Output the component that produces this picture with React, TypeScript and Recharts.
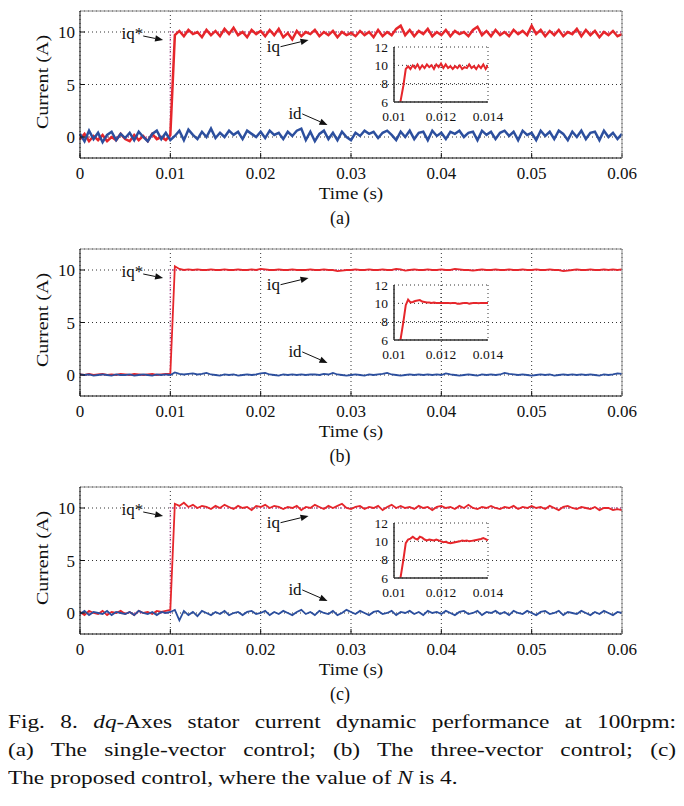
import React from "react";
import {
  LineChart,
  Line,
  XAxis,
  YAxis,
  CartesianGrid,
  ReferenceLine,
  ReferenceDot,
} from "recharts";

const FONT = '"Liberation Serif", "Times New Roman", serif';
const RED = "#e6262b";
const BLUE = "#2c4f9e";
const REF = "#cc5fae";

// sample grid of the main traces and of the zoomed insets
const STEP = 0.0005;
const INSET_T0 = 0.01;
const INSET_STEP = 0.0001;

const X_TICKS = [0, 0.01, 0.02, 0.03, 0.04, 0.05, 0.06];
const Y_TICKS = [0, 5, 10];
const INSET_X_TICKS = [0.01, 0.012, 0.014];
const INSET_Y_TICKS = [6, 8, 10, 12];

// iq* reference step
const REF_T = [0, 0.01, 0.01, 0.06];
const REF_V = [0, 0, 10, 10];

// (a) single-vector control
const IQ_A = [
  -0.2, 0.3, -0.4, 0.1, -0.3, 0.2, -0.4, 0.0, -0.3, 0.3,
  -0.2, -0.4, 0.2, -0.3, 0.1, -0.4, 0.3, -0.2, 0.0, -0.3,
  0.2,
  9.7, 10.1, 9.6, 10.2, 9.8, 10.0, 9.5, 10.2, 9.7, 10.1,
  9.6, 10.3, 9.8, 10.4, 9.7, 10.0, 9.5, 10.2, 9.8, 10.1,
  9.6, 10.2, 9.7, 10.3, 9.5, 9.9, 9.3, 10.1, 9.6, 10.0,
  9.8, 10.2, 9.6, 10.0, 9.7, 10.1, 9.5, 10.0, 9.7, 9.9,
  9.6, 10.1, 9.7, 10.0, 9.5, 10.2, 9.6, 10.0, 9.7, 10.3,
  10.6, 9.7, 10.2, 9.6, 10.1, 9.8, 10.3, 9.6, 10.0, 9.7,
  10.2, 9.6, 10.1, 9.8, 10.0, 9.6, 10.2, 10.5, 9.7, 10.1,
  9.6, 10.2, 9.7, 10.0, 9.6, 10.2, 9.8, 10.1, 9.7, 10.6,
  9.8, 10.2, 9.6, 10.1, 9.7, 10.2, 9.6, 10.0, 9.8, 10.3,
  9.6, 10.2, 9.7, 10.1, 9.5, 10.0, 9.7, 10.1, 9.6, 9.8,
];
const ID_A = [
  0.3, -0.4, 0.6, -0.2, 0.4, -0.5, 0.2, 0.5, -0.3, 0.3, -0.1,
  0.4, -0.3, 0.5, 0.0, -0.4, 0.3, 0.6, -0.2, 0.4, -0.3,
  0.1, 0.6, -0.3, 0.7, 0.2, -0.2, 0.5, 0.0, 0.8, -0.1,
  0.4, 0.0, 0.6, 0.2, 0.5, -0.2, 0.6, 0.3, 0.0, 0.5,
  -0.1, 0.6, 0.2, 0.4, -0.2, 0.5, 0.1, 0.6, 0.8, -0.3,
  0.5, -0.4, 0.3, 0.6, -0.2, 0.4, -0.3, 0.5, 0.0, -0.3,
  0.4, 0.1, 0.6, 0.3, 0.5, -0.1, 0.4, 0.6, 0.2, -0.3,
  0.5, 0.0, 0.6, -0.2, 0.4, 0.5, -0.3, 0.6, 0.1, 0.4,
  -0.2, 0.5, 0.3, 0.6, 0.0, 0.4, 0.5, -0.3, 0.6, 0.2,
  0.5, -0.2, 0.4, 0.6, 0.1, 0.5, -0.3, 0.6, 0.2, 0.4,
  -0.3, 0.6, 0.1, 0.5, -0.2, 0.6, 0.3, -0.3, 0.5, 0.0,
  0.6, -0.2, 0.4, 0.5, -0.3, 0.6, 0.0, 0.4, -0.2, 0.3,
];
const INSET_A = [
  0.3, 1.8, 5.0, 6.4, 7.8, 9.6, 9.9,
  9.6, 10.0, 9.7, 10.1, 9.6, 10.0, 9.7, 10.1, 9.8, 10.0,
  9.6, 10.1, 9.8, 10.2, 9.7, 10.1, 9.7, 9.9, 9.6, 9.9,
  9.7, 10.0, 9.6, 9.8, 9.7, 10.1, 9.7, 9.9, 9.6, 10.0,
  9.7, 10.1, 9.6, 10.0,
];

// (b) three-vector control
const IQ_B = [
  0.05, 0.0, 0.1, 0.0, 0.05, 0.1, 0.0, 0.05, 0.0, 0.1,
  0.05, 0.0, 0.1, 0.05, 0.0, 0.05, 0.1, 0.0, 0.05, 0.1,
  0.1,
  10.35, 10.1, 10.0, 10.05, 10.0, 10.05, 10.0, 10.0, 10.05, 10.0,
  10.0, 10.05, 10.0, 10.0, 10.05, 10.0, 10.0, 10.05, 10.0, 10.1,
  10.05, 10.0, 10.0, 10.05, 10.0, 10.0, 10.05, 10.0, 10.0, 10.0,
  10.05, 10.0, 10.0, 10.05, 10.0, 10.0, 9.9, 9.95, 10.0, 10.0,
  10.05, 10.0, 10.0, 10.05, 10.0, 10.0, 10.05, 10.0, 10.0, 10.1,
  10.05, 9.95, 10.0, 10.05, 10.0, 10.0, 10.05, 10.0, 10.0, 10.05,
  10.0, 10.0, 10.1, 10.05, 10.0, 10.0, 9.95, 10.0, 10.05, 10.0,
  10.0, 10.05, 10.0, 10.0, 10.05, 10.0, 10.0, 10.05, 10.0, 10.0,
  10.05, 10.0, 10.0, 10.05, 10.0, 10.0, 9.9, 9.95, 10.0, 10.05,
  10.0, 10.0, 10.05, 10.0, 10.0, 10.05, 10.0, 10.05, 10.0, 10.05,
];
const ID_B = [
  0.05, 0.0, 0.05, -0.05, 0.0, 0.05, 0.0, -0.05, 0.05, 0.0, 0.0,
  0.05, -0.05, 0.0, 0.05, 0.0, -0.05, 0.05, 0.0, 0.05, 0.0,
  0.25, 0.1, 0.05, 0.1, 0.15, 0.05, 0.1, 0.2, 0.05, 0.0,
  -0.05, 0.05, 0.0, 0.05, -0.05, 0.0, 0.05, 0.0, 0.05, 0.15,
  0.2, 0.05, 0.0, -0.05, 0.05, 0.0, 0.05, 0.0, 0.05, 0.0,
  0.05, 0.05, 0.0, 0.1, 0.05, 0.2, 0.05, 0.0, -0.05, 0.0,
  0.05, 0.0, -0.05, 0.05, 0.0, 0.05, 0.1, 0.2, 0.05, 0.0,
  -0.05, 0.0, 0.05, 0.0, 0.05, 0.0, 0.05, 0.0, 0.05, 0.0,
  0.15, 0.05, 0.0, -0.05, 0.0, 0.05, 0.0, -0.05, 0.05, 0.0,
  0.05, 0.0, 0.05, 0.2, 0.1, 0.05, 0.0, 0.05, 0.0, -0.05,
  0.0, 0.05, 0.0, 0.05, -0.05, 0.0, 0.05, 0.0, 0.05, 0.0,
  0.05, 0.0, 0.05, 0.0, -0.05, 0.05, 0.0, 0.05, 0.15, 0.1,
];
const INSET_B = [
  0.1, 1.5, 4.8, 6.4, 8.0, 9.8, 10.4,
  10.1, 10.15, 10.25, 10.3, 10.35, 10.2, 10.15, 10.1, 10.1, 10.05,
  10.1, 10.05, 10.05, 10.05, 10.05, 10.05, 10.05, 10.0, 10.05, 10.05,
  9.95, 9.95, 10.0, 10.05, 10.05, 9.95, 10.0, 10.05, 10.05, 10.0,
  10.05, 10.05, 10.05, 10.05,
];

// (c) proposed control, N = 4
const IQ_C = [
  0.1, -0.2, 0.2, 0.0, -0.1, 0.2, -0.2, 0.1, 0.0, 0.2,
  -0.1, 0.1, -0.2, 0.2, 0.0, 0.1, -0.1, 0.2, 0.1, 0.2,
  0.3,
  10.4, 10.2, 10.5, 10.1, 10.3, 10.0, 10.2, 10.1, 9.9, 10.2,
  10.0, 10.3, 10.1, 9.9, 10.2, 10.0, 10.1, 9.8, 10.2, 10.1,
  10.3, 10.0, 10.2, 10.1, 9.9, 10.1, 10.0, 10.2, 9.8, 10.1,
  10.0, 10.3, 10.1, 9.9, 10.2, 10.0, 10.2, 10.4, 10.0, 9.9,
  10.1, 10.2, 9.9, 10.1, 10.0, 10.2, 9.8, 10.1, 10.3, 10.0,
  10.2, 10.0, 10.1, 9.9, 10.2, 10.0, 10.1, 9.8, 10.1, 10.2,
  10.0, 10.1, 9.9, 10.2, 10.0, 10.3, 10.0, 9.9, 10.1, 10.0,
  10.2, 10.0, 9.9, 10.1, 10.0, 10.2, 9.9, 10.1, 10.0, 10.2,
  10.0, 10.1, 9.9, 10.2, 10.0, 9.8, 10.1, 10.2, 10.0, 9.9,
  10.1, 10.0, 9.9, 10.1, 9.8, 10.0, 10.0, 9.8, 9.9, 9.8,
];
const ID_C = [
  -0.1, 0.2, -0.2, 0.1, 0.0, -0.1, 0.2, -0.2, 0.1, 0.0, -0.1,
  0.1, -0.2, 0.2, 0.0, -0.1, 0.1, -0.2, 0.1, 0.0, 0.1,
  0.3, -0.7, 0.2, -0.2, 0.1, -0.3, 0.2, 0.0, -0.2, 0.1,
  -0.1, 0.2, -0.2, 0.0, 0.1, -0.2, 0.1, 0.2, -0.1, 0.0,
  0.2, -0.2, 0.1, -0.1, 0.2, 0.0, -0.2, 0.1, 0.3, -0.1,
  0.1, -0.2, 0.2, 0.0, -0.1, 0.2, -0.2, 0.0, 0.3, 0.1,
  -0.1, 0.2, 0.0, -0.2, 0.1, 0.2, -0.1, 0.0, 0.2, -0.2,
  0.1, 0.0, 0.2, -0.1, 0.1, -0.2, 0.2, 0.0, 0.1, -0.1,
  0.2, 0.0, -0.2, 0.1, 0.2, -0.1, 0.0, 0.2, -0.2, 0.1,
  0.0, 0.2, -0.1, 0.1, -0.2, 0.2, 0.0, -0.1, 0.2, 0.0,
  -0.2, 0.1, 0.2, -0.1, 0.0, 0.2, -0.2, 0.1, 0.0, -0.1,
  0.2, 0.0, -0.2, 0.1, -0.1, 0.2, 0.0, -0.2, 0.1, 0.0,
];
const INSET_C = [
  0.2, 1.6, 4.9, 6.4, 8.0, 9.8, 10.2,
  10.3, 10.5, 10.3, 10.2, 10.5, 10.4, 10.2, 10.1, 10.2, 10.15,
  10.1, 10.2, 10.1, 10.0, 9.9, 9.95, 9.85, 9.8, 9.85, 9.9,
  9.95, 10.0, 10.1, 10.05, 10.1, 10.0, 10.05, 10.1, 10.15, 10.2,
  10.25, 10.35, 10.25, 10.1,
];

const PANEL_TAGS = ["(a)", "(b)", "(c)"];

// annotation anchors in data units: label centre, arrow tail, arrow head
const NOTES = [
  { label: "iq*", at: [0.0058, 9.9], from: [0.007, 9.62], to: [0.0092, 9.23] },
  { label: "iq", at: [0.0214, 8.6], from: [0.0222, 8.6], to: [0.0253, 9.25] },
  { label: "id", at: [0.0238, 2.2], from: [0.0246, 2.2], to: [0.0274, 1.15] },
];

const Arrow = (p: any) => {
  const { x1, y1, x2, y2 } = p;
  const a = Math.atan2(y2 - y1, x2 - x1);
  const len = 8;
  const half = 3.2;
  const bx = x2 - len * Math.cos(a);
  const by = y2 - len * Math.sin(a);
  const pts = `${x2},${y2} ${bx - half * Math.sin(a)},${by + half * Math.cos(a)} ${
    bx + half * Math.sin(a)
  },${by - half * Math.cos(a)}`;
  return (
    <g>
      <line x1={x1} y1={y1} x2={bx} y2={by} stroke="#111" strokeWidth={1} />
      <polygon points={pts} fill="#111" />
    </g>
  );
};

const noteText = (label: string) => (p: any) =>
  (
    <text
      x={p.cx}
      y={p.cy}
      textAnchor="middle"
      dominantBaseline="central"
      fontFamily={FONT}
      fontSize={17}
      fill="#111"
    >
      {label}
    </text>
  );

const tickFont = (size: number) => ({ fontSize: size, fill: "#111", fontFamily: FONT });

const Panel = ({
  top,
  iq,
  id,
  inset,
  tag,
  width,
}: {
  top: number;
  iq: number[];
  id: number[];
  inset: number[];
  tag: string;
  width: number;
}) => {
  const rows = iq.map((v, i) => ({ t: Number((i * STEP).toFixed(4)), iq: v, id: id[i] }));
  const refRows = REF_T.map((t, i) => ({ t, v: REF_V[i] }));
  const insetRows = inset.map((v, i) => ({
    t: Number((INSET_T0 + i * INSET_STEP).toFixed(4)),
    iq: v,
  }));

  return (
    <>
      <div style={{ position: "absolute", left: 0, top }}>
        <LineChart
          width={684}
          height={240}
          data={rows}
          margin={{ top: 9, right: 60, bottom: 52, left: 40 }}
        >
          <CartesianGrid stroke="#333" strokeDasharray="1 3" />
          <XAxis
            dataKey="t"
            type="number"
            domain={[0, 0.06]}
            ticks={X_TICKS}
            interval={0}
            height={30}
            tickSize={-5}
            tickMargin={14}
            axisLine={{ stroke: "#111" }}
            tickLine={{ stroke: "#111" }}
            tick={tickFont(17)}
            tickFormatter={(v) => String(v)}
          />
          <XAxis
            xAxisId="top"
            orientation="top"
            type="number"
            domain={[0, 0.06]}
            ticks={X_TICKS}
            interval={0}
            height={2}
            tickSize={-5}
            tick={false}
            axisLine={{ stroke: "#888" }}
            tickLine={{ stroke: "#333" }}
          />
          <YAxis
            type="number"
            domain={[-2, 12]}
            ticks={Y_TICKS}
            interval={0}
            width={40}
            tickSize={-5}
            tickMargin={10}
            axisLine={{ stroke: "#111" }}
            tickLine={{ stroke: "#111" }}
            tick={tickFont(17)}
          />
          <YAxis
            yAxisId="right"
            orientation="right"
            type="number"
            domain={[-2, 12]}
            ticks={Y_TICKS}
            interval={0}
            width={2}
            tickSize={-5}
            tick={false}
            axisLine={{ stroke: "#888" }}
            tickLine={{ stroke: "#333" }}
          />
          <Line
            data={refRows}
            dataKey="v"
            stroke={REF}
            strokeWidth={1.5}
            strokeDasharray="1 2"
            dot={false}
            isAnimationActive={false}
          />
          <Line
            dataKey="iq"
            stroke={RED}
            strokeWidth={width}
            dot={false}
            isAnimationActive={false}
          />
          <Line
            dataKey="id"
            stroke={BLUE}
            strokeWidth={width}
            dot={false}
            isAnimationActive={false}
          />
          {NOTES.map((n) => (
            <ReferenceLine
              key={"l" + n.label}
              segment={[
                { x: n.from[0], y: n.from[1] },
                { x: n.to[0], y: n.to[1] },
              ]}
              ifOverflow="visible"
              shape={Arrow}
            />
          ))}
          {NOTES.map((n) => (
            <ReferenceDot
              key={"t" + n.label}
              x={n.at[0]}
              y={n.at[1]}
              r={1}
              ifOverflow="visible"
              shape={noteText(n.label)}
            />
          ))}
        </LineChart>
      </div>

      <div style={{ position: "absolute", left: 340, top: top + 35 }}>
        <LineChart
          width={188}
          height={121}
          data={insetRows}
          margin={{ top: 12, right: 40, bottom: 32, left: 24 }}
        >
          <CartesianGrid stroke="#333" strokeDasharray="1 3" />
          <XAxis
            dataKey="t"
            type="number"
            domain={[0.01, 0.014]}
            ticks={INSET_X_TICKS}
            interval={0}
            height={22}
            tickLine={false}
            tickSize={4}
            tickMargin={5}
            axisLine={{ stroke: "#333", strokeWidth: 1.5 }}
            tick={tickFont(13.5)}
            tickFormatter={(v) => String(v)}
            allowDataOverflow
          />
          <YAxis
            type="number"
            domain={[6, 12]}
            ticks={INSET_Y_TICKS}
            interval={0}
            width={30}
            tickLine={false}
            tickSize={4}
            tickMargin={2}
            axisLine={{ stroke: "#333", strokeWidth: 1.5 }}
            tick={tickFont(13.5)}
            allowDataOverflow
          />
          <Line
            dataKey="iq"
            stroke={RED}
            strokeWidth={2}
            dot={false}
            isAnimationActive={false}
          />
        </LineChart>
      </div>

      <div
        style={{
          position: "absolute",
          left: 42,
          top: top + 82,
          transform: "translate(-50%, -50%) rotate(-90deg) scaleX(1.18)",
          whiteSpace: "nowrap",
          fontSize: 17,
          lineHeight: "17px",
        }}
      >
        Current (A)
      </div>
      <div
        style={{
          position: "absolute",
          left: 351,
          top: top + 193,
          transform: "translate(-50%, -50%) scaleX(1.12)",
          whiteSpace: "nowrap",
          fontSize: 17,
          lineHeight: "17px",
        }}
      >
        Time (s)
      </div>
      <div
        style={{
          position: "absolute",
          left: 340,
          top: top + 218,
          transform: "translate(-50%, -50%)",
          whiteSpace: "nowrap",
          fontSize: 18,
          lineHeight: "18px",
        }}
      >
        {tag}
      </div>
    </>
  );
};

const CAPTION_SCALE = 1.24;

export default function App() {
  const line = (justify: boolean) => ({
    width: 668 / CAPTION_SCALE,
    height: 28,
    textAlign: "justify" as const,
    textAlignLast: justify ? ("justify" as const) : ("left" as const),
    whiteSpace: "nowrap" as const,
  });
  return (
    <div
      style={{
        position: "absolute",
        left: 0,
        top: 0,
        width: 684,
        height: 806,
        overflow: "hidden",
        background: "#fff",
        fontFamily: FONT,
        color: "#111",
      }}
    >
      <Panel top={0} iq={IQ_A} id={ID_A} inset={INSET_A} tag={PANEL_TAGS[0]} width={2.5} />
      <Panel top={238} iq={IQ_B} id={ID_B} inset={INSET_B} tag={PANEL_TAGS[1]} width={1.8} />
      <Panel top={476} iq={IQ_C} id={ID_C} inset={INSET_C} tag={PANEL_TAGS[2]} width={1.8} />

      <div
        style={{
          position: "absolute",
          left: 8,
          top: 708,
          fontSize: 18.8,
          lineHeight: "28px",
          transform: `scaleX(${CAPTION_SCALE})`,
          transformOrigin: "0 0",
        }}
      >
        <div style={{ ...line(true), whiteSpace: "normal" }}>
          Fig. 8. <i>dq</i>-Axes stator current dynamic performance at 100rpm:
        </div>
        <div style={{ ...line(true), whiteSpace: "normal" }}>
          (a) The single-vector control; (b) The three-vector control; (c)
        </div>
        <div style={line(false)}>
          The proposed control, where the value of <i>N</i> is 4.
        </div>
      </div>
    </div>
  );
}
